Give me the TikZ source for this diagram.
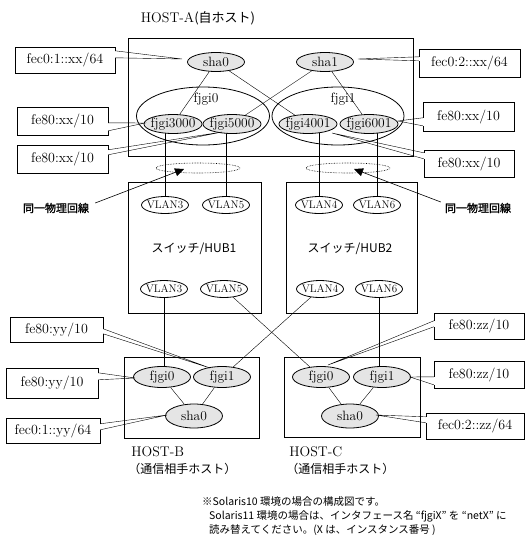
\documentclass[tikz,border=0pt]{standalone}
\usepackage{fontspec}
\newfontfamily\jp{Noto Sans CJK JP}[AutoFakeBold=1.5]
\usetikzlibrary{shapes.geometric,arrows.meta,calc}
\pgfdeclarelayer{bg}
\pgfsetlayers{bg,main}
\newcommand\callout[5]{%
  \draw[white, line width=1.6pt] ($(#1.#2)+(0,#3)$) -- ($(#1.#2)+(0,#4)$);
  \draw ($(#1.#2)+(0,#3)$) -- (#5) -- ($(#1.#2)+(0,#4)$);
}
\begin{document}
\begin{tikzpicture}[x=1pt,y=-1pt, line width=0.8pt,
  box/.style={draw, fill=white, inner sep=0pt, font=\fontsize{14}{16}\selectfont},
  ifc/.style={ellipse, draw, fill=gray!20, inner sep=0pt, minimum width=57pt, minimum height=19pt,
              label={[font=\fontsize{13.5}{15}\selectfont, inner sep=0pt]center:#1}},
  vlan/.style={ellipse, draw, fill=white, inner sep=0pt, minimum width=47pt, minimum height=17pt,
              label={[font=\fontsize{11}{13}\selectfont, inner sep=0pt]center:#1}},
  grp/.style={ellipse, draw, inner sep=0pt, minimum width=133pt, minimum height=58pt},
  frame/.style={draw, inner sep=0pt},
  phys/.style={ellipse, draw, densely dotted, line width=0.6pt, minimum width=84pt, minimum height=10pt, inner sep=0pt},
  grplbl/.style={font=\fontsize{13.5}{15}\selectfont, inner sep=0pt},
  jpsame/.style={font=\jp\bfseries\fontsize{11}{13}\selectfont, inner sep=0pt},
  hostlbl/.style={font=\fontsize{14}{16}\selectfont, inner sep=0pt, anchor=west},
  hostsub/.style={font=\jp\fontsize{12}{14}\selectfont, inner sep=0pt, anchor=west},
  hubtxt/.style={font=\jp\fontsize{12}{14}\selectfont, inner sep=0pt},
  note/.style={font=\jp\fontsize{10.5}{12}\selectfont, inner sep=0pt, anchor=west},
  ptr/.style={-{Triangle[length=9pt,width=8pt]}, line width=0.6pt}
]
\useasboundingbox (0,0) rectangle (529,539);

% frames
\node[frame, minimum width=285pt, minimum height=118pt] (hostA) at (270.5,97) {};
\node[frame, minimum width=133pt, minimum height=131pt] (hub1) at (194.5,247.5) {};
\node[frame, minimum width=131pt, minimum height=131pt] (hub2) at (351.5,247.5) {};
\node[frame, minimum width=135pt, minimum height=81pt] (hostB) at (191.5,397.5) {};
\node[frame, minimum width=136pt, minimum height=80pt] (hostC) at (352,397) {};

% titles
\node[inner sep=0pt] (titleA) at (198,18) {{\fontsize{14}{16}\selectfont HOST-A}{\jp\fontsize{13}{16}\selectfont (自ホスト)}};
\node[hostlbl] (titleB) at (131,452) {HOST-B};
\node[hostsub] (subB) at (128,469) {（通信相手ホスト）};
\node[hostlbl] (titleC) at (289,452) {HOST-C};
\node[hostsub] (subC) at (286,469) {（通信相手ホスト）};

% HOST-A
\node[grp] (g0) at (203,116) {};
\node[grp, minimum width=132pt] (g1) at (338,116) {};
\node[grplbl] (g0l) at (206,99) {fjgi0};
\node[grplbl] (g1l) at (343,99) {fjgi1};
\node[ifc=sha0] (asha0) at (216,62) {};
\node[ifc=sha1] (asha1) at (325,62) {};
\node[ifc=fjgi3000, minimum width=58pt] (a3000) at (173,124) {};
\node[ifc=fjgi5000, minimum width=58pt] (a5000) at (232,124) {};
\node[ifc=fjgi4001, minimum width=58pt] (a4001) at (308,124) {};
\node[ifc=fjgi6001, minimum width=58pt] (a6001) at (369,124) {};

% physical line markers
\node[phys] (phys1) at (198,168) {};
\node[phys] (phys2) at (348,168) {};

% switches
\node[vlan=VLAN3] (v3a) at (165,205) {};
\node[vlan=VLAN5] (v5a) at (226,205) {};
\node[vlan=VLAN4] (v4a) at (319,205) {};
\node[vlan=VLAN6] (v6a) at (377,205) {};
\node[vlan=VLAN3] (v3b) at (164,289) {};
\node[vlan=VLAN5] (v5b) at (224,289) {};
\node[vlan=VLAN4] (v4b) at (320,289) {};
\node[vlan=VLAN6] (v6b) at (379,289) {};
\node[hubtxt] (hub1t) at (194,249) {スイッチ/HUB1};
\node[hubtxt] (hub2t) at (350,249) {スイッチ/HUB2};

% HOST-B / HOST-C
\node[ifc=fjgi0, minimum height=21pt] (bf0) at (162,377) {};
\node[ifc=fjgi1, minimum height=21pt] (bf1) at (222,377) {};
\node[ifc=sha0, minimum height=24pt] (bsha0) at (194,416) {};
\node[ifc=fjgi0, minimum height=21pt] (cf0) at (321,377) {};
\node[ifc=fjgi1, minimum height=21pt] (cf1) at (382,377) {};
\node[ifc=sha0, minimum height=24pt] (csha0) at (350,416) {};

% connectors (behind)
\begin{pgfonlayer}{bg}
\draw (asha0) -- (a3000);
\draw (asha0) -- (a4001);
\draw (asha1) -- (a5000);
\draw (asha1) -- (a6001);
\draw (v3a) -- (v3a |- a3000.center);
\draw (v5a) -- (v5a |- a5000.center);
\draw (v4a) -- (v4a |- a4001.center);
\draw (v6a) -- (v6a |- a6001.center);
\draw (v3b.center) -- (v3b |- bf0.center);
\draw (v6b.center) -- (v6b |- cf1.center);
\draw (v5b) -- (cf0);
\draw (v4b) -- (bf1);
\draw (bf0) -- (bsha0);
\draw (bf1) -- (bsha0);
\draw (cf0) -- (csha0);
\draw (cf1) -- (csha0);
\end{pgfonlayer}

% same physical line
\node[jpsame] (same1) at (56,208) {同一物理回線};
\node[jpsame] (same2) at (478,208) {同一物理回線};
\coordinate (tipP1) at (184,169);
\coordinate (tipP2) at (354,169);
\draw[ptr] ([shift={(6,-5)}]same1.east) -- (tipP1);
\draw[ptr] ([shift={(-4,-6)}]same2.west) -- (tipP2);

% address callouts
\node[box, minimum width=100pt, minimum height=26pt] (b1) at (65,60) {fec0:1::xx/64};
\node[box, minimum width=101pt, minimum height=28pt] (b2) at (469.5,63) {fec0:2::xx/64};
\node[box, minimum width=91pt, minimum height=28pt] (b3) at (62.5,121) {fe80:xx/10};
\node[box, minimum width=91pt, minimum height=28pt] (b4) at (62.5,159) {fe80:xx/10};
\node[box, minimum width=91pt, minimum height=29pt] (b5) at (468.5,116.5) {fe80:xx/10};
\node[box, minimum width=90pt, minimum height=27pt] (b6) at (469,163.5) {fe80:xx/10};
\node[box, minimum width=93pt, minimum height=25pt] (b7) at (56.5,329.5) {fe80:yy/10};
\node[box, minimum width=92pt, minimum height=30pt] (b8) at (52,383) {fe80:yy/10};
\node[box, minimum width=94pt, minimum height=25pt] (b9) at (53,430.5) {fec0:1::yy/64};
\node[box, minimum width=90pt, minimum height=26pt] (b10) at (479,326) {fe80:zz/10};
\node[box, minimum width=90pt, minimum height=27pt] (b11) at (479,374.5) {fe80:zz/10};
\node[box, minimum width=98pt, minimum height=26pt] (b12) at (475,426) {fec0:2::zz/64};

\coordinate (t1) at (182,59);
\coordinate (t2) at (358,59);
\coordinate (t3) at (145,123);
\coordinate (t4) at (222,132);
\coordinate (t5) at (398,121);
\coordinate (t6) at (332,133);
\coordinate (t7) at (210,368);
\coordinate (t8) at (135,378);
\coordinate (t9) at (167,415);
\coordinate (t10) at (328,365);
\coordinate (t11) at (410,377);
\coordinate (t12) at (376,415);

\callout{b1}{north east}{4}{11}{t1}
\callout{b2}{north west}{8}{12}{t2}
\callout{b3}{north east}{16}{24}{t3}
\callout{b4}{north east}{5}{10}{t4}
\callout{b5}{north west}{16}{24}{t5}
\callout{b6}{north west}{3}{9}{t6}
\callout{b7}{north east}{12}{17}{t7}
\callout{b8}{north east}{5}{12}{t8}
\callout{b9}{north east}{6}{12}{t9}
\callout{b10}{north west}{8}{14}{t10}
\callout{b11}{north west}{16}{24}{t11}
\callout{b12}{north west}{4}{10}{t12}

% note
\node[note] (n1) at (202,502) {※Solaris10 環境の場合の構成図です。};
\node[note] (n2) at (209,516) {Solaris11 環境の場合は、インタフェース名 “fjgiX” を “netX” に};
\node[note] (n3) at (209,530) {読み替えてください。(X は、インスタンス番号 )};
\end{tikzpicture}
\end{document}
